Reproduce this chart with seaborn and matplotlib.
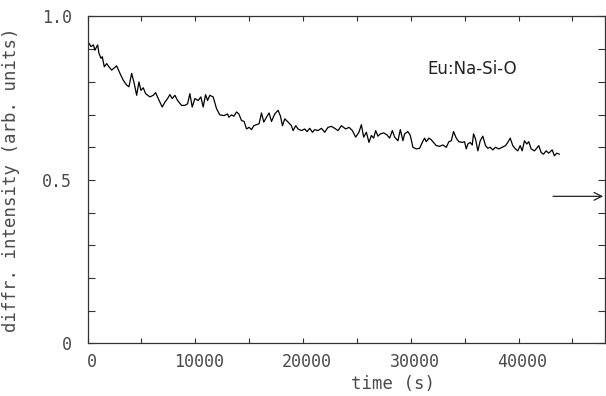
import numpy as np
import pandas as pd
import matplotlib
matplotlib.use("Agg")
import matplotlib.pyplot as plt
from matplotlib.ticker import MultipleLocator, FixedLocator
from matplotlib.transforms import ScaledTranslation
import seaborn as sns

# ---- data ----
time_s = [140, 324, 538, 695, 853, 945, 1066, 1251, 1372, 1557, 1779, 1993, 2243, 2484, 2706,
          3012, 3318, 3633, 3846, 4096, 4337, 4560, 4773, 4958, 5172, 5394, 5793, 6098, 6321,
          6562, 6932, 7183, 7433, 7646, 7859, 8110, 8360, 8730, 9036, 9287, 9500, 9713, 9963,
          10269, 10519, 10732, 10955, 11140, 11353, 11659, 11974, 12280, 12679, 12994, 13114,
          13365, 13578, 13828, 14041, 14291, 14532, 14755, 14996, 15218, 15431, 15682, 15922,
          16145, 16358, 16608, 16849, 17072, 17378, 17683, 17906, 18091, 18304, 18610, 18925,
          19073, 19324, 19537, 19852, 20158, 20371, 20621, 20872, 21085, 21391, 21706, 22011,
          22317, 22632, 22938, 23244, 23559, 23958, 24264, 24579, 24885, 25190, 25413, 25626,
          25876, 26117, 26340, 26553, 26738, 26951, 27174, 27480, 27785, 28036, 28286, 28499,
          28805, 29028, 29269, 29426, 29732, 29955, 30195, 30510, 30816, 31066, 31279, 31437,
          31678, 31900, 32049, 32364, 32670, 32976, 33291, 33532, 33754, 33967, 34218, 34459,
          34774, 34987, 35145, 35293, 35515, 35700, 35821, 36007, 36220, 36442, 36683, 36933,
          37146, 37369, 37610, 37860, 38166, 38481, 38787, 39000, 39222, 39463, 39713, 39926,
          40149, 40334, 40547, 40760, 40946, 41168, 41474, 41873, 42095, 42308, 42558, 42800,
          43115, 43328, 43541, 43791]
intensity = [0.918, 0.908, 0.913, 0.897, 0.908, 0.913, 0.887, 0.872, 0.877, 0.846, 0.856, 0.846,
             0.836, 0.843, 0.849, 0.826, 0.805, 0.790, 0.785, 0.826, 0.795, 0.759, 0.800, 0.774,
             0.782, 0.764, 0.754, 0.759, 0.767, 0.749, 0.723, 0.738, 0.749, 0.761, 0.749, 0.759,
             0.743, 0.728, 0.728, 0.733, 0.764, 0.723, 0.749, 0.743, 0.754, 0.723, 0.761, 0.743,
             0.759, 0.754, 0.718, 0.699, 0.697, 0.702, 0.692, 0.699, 0.695, 0.708, 0.702, 0.682,
             0.679, 0.656, 0.661, 0.654, 0.666, 0.669, 0.672, 0.705, 0.677, 0.692, 0.705, 0.679,
             0.702, 0.713, 0.695, 0.666, 0.687, 0.677, 0.666, 0.651, 0.666, 0.656, 0.651, 0.656,
             0.648, 0.658, 0.646, 0.654, 0.651, 0.658, 0.646, 0.661, 0.664, 0.658, 0.651, 0.666,
             0.656, 0.661, 0.651, 0.631, 0.646, 0.669, 0.631, 0.646, 0.615, 0.636, 0.628, 0.651,
             0.634, 0.641, 0.644, 0.638, 0.628, 0.651, 0.631, 0.620, 0.654, 0.620, 0.641, 0.648,
             0.636, 0.600, 0.595, 0.597, 0.615, 0.628, 0.617, 0.628, 0.623, 0.617, 0.605, 0.603,
             0.607, 0.600, 0.617, 0.620, 0.648, 0.628, 0.617, 0.615, 0.617, 0.595, 0.610, 0.615,
             0.607, 0.641, 0.625, 0.589, 0.620, 0.634, 0.605, 0.597, 0.600, 0.592, 0.600, 0.595,
             0.600, 0.605, 0.615, 0.628, 0.605, 0.595, 0.589, 0.605, 0.589, 0.620, 0.610, 0.617,
             0.595, 0.589, 0.605, 0.584, 0.579, 0.589, 0.582, 0.592, 0.574, 0.582, 0.579]

x_ticks = [0, 10000, 20000, 30000, 40000]
x_tick_labels = ["0", "10000", "20000", "30000", "40000"]
y_ticks = [0, 0.5, 1.0]
y_tick_labels = ["0", "0.5", "1.0"]
sample_label = "Eu:Na-Si-O"
arrow_level = 0.45
arrow_start, arrow_end = 43200, 47850

df = pd.DataFrame({"time (s)": time_s, "intensity": intensity})

# ---- style ----
sns.set_style("ticks")
plt.rcParams["font.family"] = ["DejaVu Sans Mono", "DejaVu Sans"]
text_col = "#4a4a4a"

fig = plt.figure(figsize=(6.06, 3.96), dpi=100)
ax = fig.add_axes([0.1444, 0.1326, 0.8536, 0.8258])

sns.lineplot(data=df, x="time (s)", y="intensity", ax=ax, color="black",
             linewidth=0.9, estimator=None, sort=False)

ax.set_xlim(0, 48000)
ax.set_ylim(0, 1.0)

ax.xaxis.set_major_locator(FixedLocator(x_ticks))
ax.set_xticklabels(x_tick_labels)
ax.xaxis.set_minor_locator(MultipleLocator(5000))
ax.yaxis.set_major_locator(FixedLocator(y_ticks))
ax.set_yticklabels(y_tick_labels)
ax.yaxis.set_minor_locator(MultipleLocator(0.1))

ax.tick_params(axis="both", which="both", direction="in", top=True, right=True,
               color="#333333", width=0.8, labelcolor=text_col, labelsize=12)
ax.tick_params(axis="x", which="both", length=3.5, pad=7)
ax.tick_params(axis="y", which="both", length=5, pad=11)

for lbl in ax.get_xticklabels():
    lbl.set_transform(lbl.get_transform() + ScaledTranslation(4 / 100, 0, fig.dpi_scale_trans))

for sp in ax.spines.values():
    sp.set_linewidth(0.9)
    sp.set_color("#333333")

ax.set_xlabel("time (s)", fontsize=12.5, color=text_col)
ax.xaxis.set_label_coords(0.59, -0.095)
ax.set_ylabel("diffr. intensity (arb. units)", fontsize=12.5, color=text_col)
ax.yaxis.set_label_coords(-0.13, 0.5)

ax.text(35700, 0.838, sample_label, family="DejaVu Sans", fontsize=12,
        color="#222222", ha="center", va="center")

ax.annotate("", xy=(arrow_end, arrow_level), xytext=(arrow_start, arrow_level),
            arrowprops=dict(arrowstyle="->", lw=0.9, color="#222222",
                            mutation_scale=14, shrinkA=0, shrinkB=0))

fig.savefig("out.png", dpi=100)
